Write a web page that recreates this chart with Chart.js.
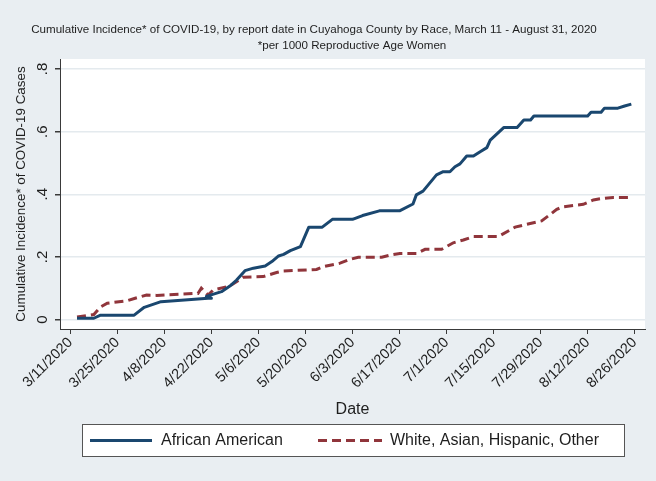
<!DOCTYPE html>
<html><head><meta charset="utf-8">
<script src="https://cdn.jsdelivr.net/npm/chart.js@4/dist/chart.umd.min.js"></script>
<style>html,body{margin:0;padding:0;background:#e9eef2;}canvas{display:block}</style>
</head><body>
<canvas id="c" width="656" height="481"></canvas>
<script>
// Days since 3/11/2020
const tickDays = [0,14,28,42,56,70,84,98,112,126,140,154,168];
const tickLabels = ["3/11/2020","3/25/2020","4/8/2020","4/22/2020","5/6/2020","5/20/2020","6/3/2020","6/17/2020","7/1/2020","7/15/2020","7/29/2020","8/12/2020","8/26/2020"];
const yTickValues = [0,0.2,0.4,0.6,0.8];
const yTickLabels = ["0",".2",".4",".6",".8"];
const seriesNames = ["African American","White, Asian, Hispanic, Other"];

const aaDays = [2,7,9,19,22,27,41,42,40.5,45,47.5,49.5,52,54.5,58,60,62,63.5,65.5,68.5,71,75,78,84,87,92,98,102,103,105,109,111,113,114.5,116,118,120,122,124,125,127,129,133,135,137,138,154,155,158,159,163,165,167];
const aaValues = [0.004,0.004,0.014,0.014,0.039,0.057,0.068,0.068,0.074,0.089,0.107,0.126,0.156,0.164,0.171,0.185,0.203,0.208,0.22,0.233,0.295,0.295,0.32,0.32,0.332,0.347,0.347,0.369,0.398,0.41,0.462,0.472,0.472,0.488,0.497,0.522,0.522,0.536,0.549,0.573,0.593,0.613,0.613,0.637,0.637,0.65,0.65,0.662,0.662,0.675,0.675,0.682,0.688];

const othDays = [2,7,9,11,17,19.3,22.7,25.7,36.6,38,39,41,42.5,47.5,51.5,57.4,61.4,63.4,73.3,75.3,80.3,83.2,85.7,92.7,95.2,98.1,103.1,105.6,110.5,114,117,120,127.4,132.4,135.8,140.3,142.3,144.8,146.7,152.7,155.7,158.6,161.6,166];
const othValues = [0.008,0.016,0.04,0.052,0.060,0.068,0.078,0.077,0.083,0.083,0.1,0.078,0.094,0.107,0.135,0.137,0.15,0.155,0.16,0.169,0.18,0.192,0.199,0.199,0.206,0.211,0.211,0.224,0.224,0.245,0.254,0.265,0.265,0.295,0.304,0.315,0.331,0.352,0.36,0.368,0.382,0.387,0.39,0.39];

const BG = '#e9eef2', TXT = '#1e1e1e', AXIS = '#3a3a3a';
const AA_COLOR = '#1a476f', OTH_COLOR = '#90353b';
const FONT = '"Liberation Sans", Arial, sans-serif';

const decor = {
  id: 'decor',
  beforeDraw(chart) {
    const ctx = chart.ctx, a = chart.chartArea;
    ctx.save();
    ctx.fillStyle = BG; ctx.fillRect(0, 0, chart.width, chart.height);
    ctx.fillStyle = '#ffffff'; ctx.fillRect(a.left, a.top, a.right - a.left, a.bottom - a.top);
    ctx.restore();
  },
  afterDraw(chart) {
    const ctx = chart.ctx, a = chart.chartArea, ys = chart.scales.y;
    ctx.save();
    ctx.fillStyle = TXT;
    ctx.textAlign = 'center'; ctx.textBaseline = 'middle';
    ctx.font = '11.6px ' + FONT;
    ctx.fillText('Cumulative Incidence* of COVID-19, by report date in Cuyahoga County by Race, March 11 - August 31, 2020', 314, 30);
    ctx.fillText('*per 1000 Reproductive Age Women', 352, 46);
    ctx.font = '15px ' + FONT;
    yTickValues.forEach((v, i) => {
      ctx.save();
      ctx.translate(43, ys.getPixelForValue(v));
      ctx.rotate(-Math.PI / 2);
      ctx.fillText(yTickLabels[i], 0, 0);
      ctx.restore();
    });
    ctx.save();
    ctx.font = '13.4px ' + FONT;
    ctx.translate(21, (a.top + a.bottom) / 2);
    ctx.rotate(-Math.PI / 2);
    ctx.fillText('Cumulative Incidence* of COVID-19 Cases', 0, 0);
    ctx.restore();
    ctx.font = '16px ' + FONT;
    ctx.fillText('Date', (a.left + a.right) / 2, 410);
    ctx.fillStyle = '#ffffff'; ctx.strokeStyle = '#555'; ctx.lineWidth = 1;
    ctx.fillRect(82.5, 424.5, 542, 32); ctx.strokeRect(82.5, 424.5, 542, 32);
    const ly = 440.5;
    ctx.lineWidth = 3;
    ctx.strokeStyle = AA_COLOR; ctx.setLineDash([]);
    ctx.beginPath(); ctx.moveTo(90, ly); ctx.lineTo(152, ly); ctx.stroke();
    ctx.strokeStyle = OTH_COLOR; ctx.setLineDash([9, 5]);
    ctx.beginPath(); ctx.moveTo(318, ly); ctx.lineTo(382, ly); ctx.stroke();
    ctx.setLineDash([]);
    ctx.fillStyle = TXT; ctx.textAlign = 'left'; ctx.font = '16px ' + FONT;
    ctx.fillText(seriesNames[0], 161, ly);
    ctx.fillText(seriesNames[1], 390, ly);
    ctx.restore();
  }
};

new Chart(document.getElementById('c'), {
  type: 'line',
  data: {
    datasets: [
      { label: seriesNames[0], data: aaDays.map((d, i) => ({ x: d, y: aaValues[i] })),
        borderColor: AA_COLOR, borderWidth: 3, pointRadius: 0, tension: 0, fill: false, borderJoinStyle: 'round' },
      { label: seriesNames[1], data: othDays.map((d, i) => ({ x: d, y: othValues[i] })),
        borderColor: OTH_COLOR, borderWidth: 3, borderDash: [9, 5], pointRadius: 0, tension: 0, fill: false }
    ]
  },
  options: {
    responsive: false, animation: false, devicePixelRatio: 1,
    layout: { padding: { left: 0, top: 59, right: 11, bottom: 0 } },
    plugins: { legend: { display: false }, title: { display: false }, tooltip: { enabled: false } },
    scales: {
      x: {
        type: 'linear', min: -3.07, max: 171.07,
        afterBuildTicks: s => { s.ticks = tickDays.map(v => ({ value: v })); },
        afterFit: s => { s.height = 152; },
        ticks: { callback: (v, i) => tickLabels[i], minRotation: 45, maxRotation: 45, autoSkip: false,
                 color: TXT, font: { size: 14.5, family: FONT }, padding: 0 },
        grid: { drawOnChartArea: false, drawTicks: true, tickLength: 5, tickColor: AXIS },
        border: { color: AXIS, width: 1 }
      },
      y: {
        type: 'linear', min: -0.0303, max: 0.832,
        afterBuildTicks: s => { s.ticks = yTickValues.map(v => ({ value: v })); },
        afterFit: s => { s.width = 60; },
        ticks: { display: false },
        grid: { color: '#e4eaee', lineWidth: 1.5, drawTicks: true, tickLength: 5, tickColor: AXIS },
        border: { color: AXIS, width: 1 }
      }
    }
  },
  plugins: [decor]
});
</script>
</body></html>
